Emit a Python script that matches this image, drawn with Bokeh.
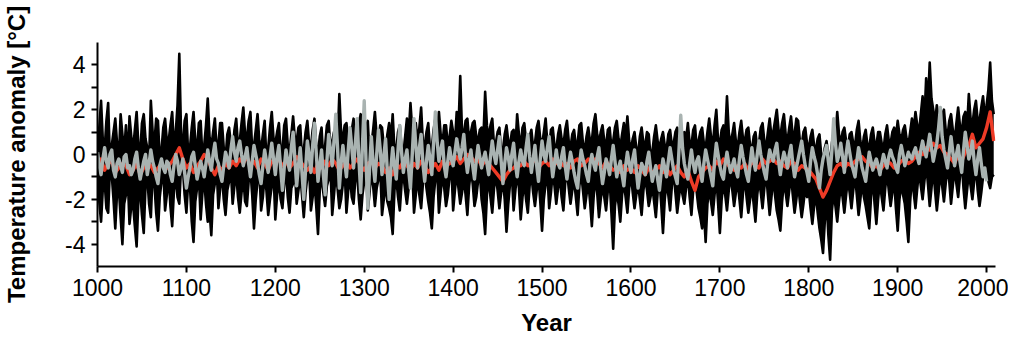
from bokeh.plotting import figure
from bokeh.models import ColumnDataSource, FixedTicker, Range1d
from bokeh.embed import file_html
from bokeh.resources import INLINE

years2 = list(range(1000, 2009, 2))
years4 = list(range(1000, 2009, 4))
nan = float("nan")

upper = [
    0.3, 1.2, 2.4, 0.6, 0.2, 1.5, 2.3, -0.3, 0.4, 1.0, 1.6, 0.5, -0.2, 1.8, 0.9, 0.1, 1.3, -0.4, 1.7, 0.8,
    0.2, 1.1, 1.9, 0.4, 0.0, 1.4, 1.8, 0.7, 0.3, -0.3, 2.4, 1.0, 0.5, 1.6, 1.5, -0.2, 0.2, 1.2, 1.6, 0.6,
    0.6, 1.3, 1.9, 0.3, 1.0, 2.2, 4.5, 0.9, 0.4, 1.5, 1.8, 0.0, 0.3, 1.2, 1.9, 0.6, 0.2, 1.4, 1.5, -0.1,
    0.4, 1.3, 2.5, 0.8, 0.3, 1.0, 1.6, 0.2, 0.5, 1.4, 1.4, 0.3, -0.2, 0.9, 1.2, 0.5, 0.0, 1.1, 1.6, 0.4,
    0.6, 1.4, 2.1, 0.9, 0.7, 1.5, 1.9, 0.2, 0.4, 1.1, 1.8, 0.6, 0.2, 0.9, 1.5, -0.2, 0.3, 1.2, 1.9, 0.7,
    0.5, 1.0, 1.4, 0.1, 0.2, 1.3, 1.6, 0.4, 0.1, 0.9, 1.7, 0.7, 0.6, 1.2, 1.3, -0.1, 0.2, 1.0, 1.5, 0.5,
    0.3, 1.1, 1.6, 0.4, 0.0, 0.8, 1.2, -0.3, 0.4, 1.3, 1.5, 0.2, 0.6, 1.0, 1.1, 0.5, 2.7, 0.9, 0.8, 1.3,
    1.4, 0.6, 0.2, 1.1, 1.6, 0.3, 0.5, 1.4, 1.8, 0.7, 0.3, 1.2, 1.5, -0.2, 0.4, 1.1, 1.9, 0.8, 0.6, 1.3,
    1.2, 0.4, 0.1, 0.9, 1.4, 0.6, 1.8, 0.2, 0.2, 1.0, 1.3, 0.3, 0.0, 0.8, 1.6, 0.9, 2.3, 1.1, 0.5, 1.4,
    0.6, 1.2, 2.1, 0.5, 0.4, 1.0, 1.4, 0.2, 0.3, 1.1, 1.6, 0.7, 1.9, 0.9, 0.5, 1.3, 1.3, 0.4, 0.8, 1.5,
    1.0, 0.5, 1.9, 1.2, 3.5, 1.0, 0.9, 1.5, 1.6, 0.6, 1.0, 1.4, 1.5, 0.8, 0.6, 1.1, 1.2, 0.7, 2.8, 1.3,
    0.7, 1.3, 1.6, 0.4, 0.5, 1.0, 1.2, 0.1, 0.2, 0.9, 1.3, 0.6, 0.4, 1.0, 1.1, 0.3, 1.8, 0.9, 0.3, 1.2,
    1.4, 0.6, 0.2, 0.8, 1.1, 0.3, 0.5, 1.2, 1.5, 0.7, 0.4, 1.0, 1.6, 0.5, 0.3, 1.1, 1.2, 0.4, 0.2, 0.9,
    1.3, 0.7, 0.4, 1.1, 1.5, 0.6, 0.3, 0.9, 1.1, 0.4, 0.5, 1.3, 1.4, 0.5, 0.2, 0.8, 1.2, 0.6, 0.6, 1.4,
    1.8, 0.9, 0.5, 1.0, 1.3, 0.6, 0.4, 1.1, 1.2, 0.3, 0.6, 1.2, 1.5, 0.7, 0.3, 0.9, 1.4, 0.8, 1.7, 0.6,
    0.2, 0.7, 1.0, 0.3, 0.0, 0.8, 1.2, 0.5, 0.4, 1.0, 0.9, -0.1, 0.1, 0.8, 1.3, 0.6, 0.3, 0.7, 1.0, 0.4,
    0.2, 0.9, 1.1, 0.4, 0.5, 1.0, 1.2, 0.6, 0.3, 0.8, 1.0, 0.7, 1.4, 0.5, 0.4, 1.1, 1.3, 0.3, 0.6, 1.0,
    1.2, 0.5, 0.3, 1.0, 1.6, 0.8, 0.4, 1.3, 2.0, 0.6, 0.5, 1.1, 1.3, 0.9, 2.6, 1.0, 0.4, 0.9, 1.4, 0.6,
    0.3, 1.0, 1.5, 0.7, 0.6, 1.1, 1.2, 0.4, 0.2, 0.8, 1.0, 0.3, 0.5, 1.2, 1.4, 0.6, 0.3, 1.0, 1.6, 0.8,
    1.0, 1.5, 2.0, 1.1, 0.8, 1.4, 1.8, 0.9, 0.6, 1.2, 1.7, 0.8, 0.9, 1.6, 1.5, 0.6, 0.4, 1.0, 1.2, 0.5,
    0.3, 0.8, 1.1, 0.4, 0.2, 0.7, 0.9, 0.0, -0.3, 0.3, 0.6, -0.1, -0.2, 0.5, 1.0, 0.7, 1.9, 0.9, 0.5, 1.0,
    1.2, 0.6, 0.3, 0.9, 1.0, 0.5, 0.4, 1.1, 1.5, 0.6, 0.2, 0.8, 1.1, 0.4, 0.3, 0.9, 1.2, 0.5, 0.4, 1.0,
    1.0, 0.5, 0.2, 0.9, 1.3, 0.6, 0.5, 1.0, 1.2, 0.8, 1.5, 0.9, 0.6, 1.1, 1.3, 0.7, 0.4, 1.0, 1.6, 1.1,
    1.9, 1.3, 1.0, 1.8, 2.6, 1.5, 3.4, 2.2, 4.1, 2.5, 2.0, 1.4, 2.2, 1.6, 1.2, 1.8, 2.0, 1.1, 0.8, 1.5,
    1.8, 1.1, 0.6, 1.4, 2.1, 1.3, 1.0, 1.7, 1.9, 1.2, 2.7, 1.6, 1.3, 2.0, 2.4, 1.5, 1.5, 2.1, 2.6, 1.7,
    2.2, 2.9, 4.1, 2.4, 1.8,
]

lower = [
    -0.8, -2.1, -3.0, -1.5, -1.2, -2.4, -2.6, -0.6, -0.9, -2.0, -3.3, -1.7, -1.5, -2.8, -4.0, -2.2, -1.8, -1.0, -3.1, -2.3,
    -2.2, -3.2, -4.1, -2.0, -1.6, -2.7, -3.5, -1.4, -1.0, -2.2, -2.8, -0.8, -1.3, -2.6, -3.4, -1.9, -1.2, -0.7, -2.5, -1.8,
    -0.9, -2.3, -3.2, -1.6, -1.0, -1.9, -2.2, -0.5, -0.6, -1.8, -2.6, -1.2, -1.4, -3.0, -3.9, -2.1, -1.5, -0.9, -2.9, -1.7,
    -1.1, -2.2, -3.0, -2.5, -3.6, -1.8, -1.3, -0.6, -2.4, -1.5, -0.9, -2.0, -2.7, -1.6, -1.2, -0.7, -2.2, -1.4, -0.8, -1.9,
    -2.6, -1.7, -1.0, -2.1, -2.3, -1.2, -0.7, -1.8, -3.3, -2.0, -1.2, -0.6, -2.5, -1.9, -0.9, -1.6, -2.7, -2.0, -1.4, -0.8,
    -2.9, -1.8, -1.1, -2.0, -2.4, -1.3, -0.8, -1.9, -2.6, -1.5, -1.3, -0.7, -2.2, -1.6, -0.9, -1.8, -2.8, -1.7, -1.0, -0.6,
    -2.5, -1.9, -1.2, -2.3, -3.55, -1.6, -0.9, -1.7, -2.3, -1.4, -1.1, -0.6, -2.7, -1.8, -0.8, -1.5, -2.4, -2.0, -1.3, -0.7,
    -2.6, -1.6, -1.0, -1.9, -2.2, -1.1, -0.7, -2.0, -2.9, -1.8, -1.2, -0.5, -2.5, -1.7, -0.8, -1.4, -2.3, -1.5, -1.1, -0.6,
    -2.7, -2.0, -1.3, -2.1, -2.4, -2.8, -3.55, -1.6, -1.0, -1.9, -2.5, -1.3, -0.9, -1.6, -2.2, -1.5, -1.2, -0.7, -2.6, -1.8,
    -1.0, -1.8, -2.4, -1.3, -0.8, -1.5, -2.1, -2.6, -3.3, -1.9, -1.1, -0.6, -2.6, -1.7, -0.9, -1.5, -2.3, -1.8, -1.0, -0.5,
    -2.5, -1.6, -0.8, -1.5, -2.2, -1.7, -1.0, -1.8, -2.7, -1.4, -0.7, -1.3, -2.3, -1.9, -1.2, -0.8, -2.0, -2.6, -3.55, -1.8,
    -1.0, -1.9, -2.6, -1.5, -0.9, -1.6, -2.4, -1.7, -1.1, -2.0, -3.45, -2.2, -1.3, -0.8, -2.5, -1.6, -0.8, -1.5, -2.9, -1.9,
    -1.2, -2.0, -2.6, -1.4, -0.9, -1.7, -2.3, -1.6, -1.0, -2.1, -3.4, -2.0, -1.3, -0.8, -2.4, -1.7, -0.8, -1.4, -2.2, -1.5,
    -1.0, -1.9, -2.5, -1.3, -0.7, -1.5, -2.2, -1.6, -1.1, -1.9, -2.7, -1.4, -0.8, -1.6, -2.4, -1.8, -1.2, -2.1, -3.2, -1.9,
    -1.0, -1.7, -2.8, -2.0, -1.4, -1.9, -2.5, -1.6, -1.1, -2.6, -4.2, -2.3, -1.6, -2.2, -3.0, -1.8, -1.2, -1.9, -2.6, -1.5,
    -0.9, -1.7, -2.4, -1.8, -1.3, -2.0, -2.7, -1.6, -1.0, -1.6, -2.3, -1.9, -1.4, -2.1, -2.8, -1.7, -1.1, -2.2, -3.5, -2.0,
    -1.2, -1.8, -2.5, -1.4, -0.8, -1.7, -2.6, -1.9, -1.3, -1.8, -2.2, -1.5, -0.9, -1.9, -2.7, -1.6, -1.1, -1.7, -2.4, -2.8,
    -3.3, -2.5, -3.9, -2.2, -1.5, -2.1, -2.7, -1.8, -1.0, -2.2, -3.5, -2.0, -1.3, -1.8, -2.5, -1.6, -0.9, -1.6, -2.3, -1.7,
    -1.2, -2.0, -2.8, -1.7, -1.0, -1.9, -2.6, -2.0, -1.4, -2.2, -3.0, -1.8, -1.1, -1.7, -2.4, -1.5, -0.8, -1.8, -2.7, -1.9,
    -1.0, -1.8, -2.5, -2.9, -3.4, -2.1, -1.2, -1.7, -2.3, -1.6, -0.9, -1.8, -2.6, -2.0, -1.3, -2.1, -2.8, -2.2, -1.5, -1.9,
    -1.6, -2.4, -3.1, -2.3, -1.8, -2.6, -3.3, -3.8, -4.4, -3.0, -2.0, -3.6, -4.7, -2.5, -1.7, -2.3, -3.0, -2.1, -1.4, -1.9,
    -2.6, -1.8, -1.1, -1.7, -2.4, -1.6, -0.9, -1.8, -2.7, -2.0, -1.2, -1.9, -2.3, -2.8, -3.3, -1.9, -1.0, -2.2, -3.1, -2.0,
    -1.2, -1.9, -2.5, -1.5, -0.8, -1.6, -2.3, -1.7, -1.1, -2.4, -3.4, -2.0, -1.3, -1.8, -2.2, -3.0, -3.9, -2.1, -1.0, -1.7,
    -2.4, -1.5, -0.7, -1.4, -2.0, -1.2, -0.4, -1.3, -2.3, -1.5, -0.6, -1.6, -2.5, -1.7, -0.8, -1.4, -2.1, -1.3, -0.5, -1.2,
    -2.2, -1.4, -0.6, -1.3, -1.9, -1.0, -0.3, -1.5, -2.4, -1.6, -0.8, -1.4, -2.0, -1.2, -0.5, -1.6, -2.3, -1.7, -1.0, -0.7,
    -0.6, -1.2, -1.5, -1.0, -0.9,
]

gray = [
    0.1, -0.5, -0.9, -0.2, 0.3, -0.3, -0.6, 0.0, 0.2, -0.7, -1.0, -0.4, -0.2, -0.5, -0.8, -0.1, 0.0, -0.6, -0.5, -0.9,
    -0.7, -0.2, 0.1, -0.6, -1.1, -0.7, -0.3, 0.0, -0.9, -0.4, 0.2, -0.3, -0.6, -1.0, -1.3, -0.5, -0.2, -0.6, -0.8, -0.3,
    -0.4, -0.9, -1.2, -0.5, 0.0, -0.3, -0.9, -0.6, -0.2, -0.8, -1.5, -1.0, -0.6, -0.1, 0.1, -0.5, -1.1, -0.7, -0.3, -0.6,
    -1.0, -0.4, 0.2, -0.3, -0.7, 0.0, 0.5, -0.2, -0.4, -0.9, -1.2, -0.5, 0.1, -0.2, -0.6, 0.2, 0.8, 0.1, -0.3, 0.3,
    0.6, 0.0, -0.5, -0.1, 0.3, -0.4, -1.0, -0.3, 0.4, 0.0, -0.4, -0.9, -1.3, -0.5, 0.2, -0.3, -0.8, -0.1, 0.5, -0.2,
    -0.9, -0.1, 0.4, -0.6, -1.6, -0.6, 0.2, -0.3, -0.7, 0.3, 1.0, -0.2, -1.4, -0.5, 0.3, -0.8, -2.0, -0.7, 0.6, 0.0,
    -0.8, 0.4, 1.4, 0.1, -1.2, -0.5, 0.2, -0.9, -1.8, -0.3, 0.9, 0.2, -0.5, 0.6, 1.8, 0.3, -1.5, -0.4, 0.4, -0.3,
    -1.0, 0.2, 1.2, 0.3, -0.6, 0.5, 1.6, -0.2, -1.7, 0.4, 2.4, -0.3, -2.4, -0.6, 0.8, -0.4, -1.2, 0.0, 1.1, 0.2,
    -0.9, -0.1, 0.7, -0.8, -2.0, -0.6, 0.3, -0.5, -1.1, 0.2, 1.3, 0.1, -0.8, -0.2, 0.2, -0.7, -1.5, 0.0, 1.6, 0.4,
    -0.6, 0.3, 0.9, -0.4, -1.2, -0.3, 0.4, -0.2, -0.9, 0.5, 1.9, 0.6, -0.3, 0.2, 0.6, -0.5, -1.0, -0.3, 0.3, -0.2,
    -0.5, 0.1, 0.7, 0.2, -0.2, 0.3, 0.9, -0.1, -0.8, -0.2, 0.2, -0.5, -1.1, -0.3, 0.4, -0.1, -0.6, -0.2, 0.1, -0.4,
    -0.9, -0.1, 0.6, 0.0, -0.4, 0.2, 0.8, -0.3, -1.3, -0.4, 0.3, -0.1, -0.7, 0.0, 0.5, -0.4, -1.0, -0.3, 0.2, -0.3,
    -0.5, 0.3, 0.9, -0.1, -0.8, -0.2, 0.4, -0.5, -1.2, -0.2, 0.6, 0.0, -0.3, 0.3, 0.8, -0.2, -1.0, -0.4, 0.2, -0.4,
    -0.6, -0.1, 0.3, -0.5, -1.1, -0.4, 0.1, -0.3, -0.8, -1.2, -1.5, -0.5, 0.2, -0.2, -0.5, -0.9, -1.2, -0.4, 0.0, -0.4,
    -0.7, -0.1, 0.3, -0.6, -1.3, -0.8, -0.2, -0.5, -0.9, -0.2, 0.4, -0.3, -1.0, -0.6, -0.3, -0.9, -1.4, -0.5, 0.1, -0.4,
    -0.8, -0.2, 0.2, -0.7, -1.5, -0.9, -0.4, -0.6, -0.9, -0.3, 0.1, -0.6, -1.2, -0.8, -0.5, -1.1, -1.6, -0.8, -0.2, -0.6,
    -1.0, -0.3, 0.3, -0.2, -0.7, -1.0, -1.3, 0.2, 1.75, 0.3, -0.4, -0.8, -1.1, -0.4, 0.2, -0.4, -0.8, -0.3, -0.1, -0.7,
    -1.2, -0.4, 0.2, -0.2, -0.6, -1.0, -1.4, -0.3, 0.5, 0.0, -0.5, -0.9, -1.1, -0.4, 0.1, -0.4, -0.8, -0.5, -0.2, -0.7,
    -1.0, -0.2, 0.4, -0.1, -0.5, -0.9, -1.2, -0.4, 0.3, -0.3, -0.7, 0.0, 0.6, 0.0, -0.4, -0.8, -1.1, -0.3, 0.2, -0.1,
    -0.3, 0.2, 0.5, -0.3, -0.9, -0.3, 0.1, -0.2, -0.6, 0.0, 0.4, -0.4, -1.0, -0.6, -0.2, 0.2, 0.6, 0.0, -0.5, -0.8,
    -1.2, -0.3, 0.3, -0.1, -0.4, -0.9, -1.5, -0.7, -0.2, 0.1, 0.4, -0.3, -0.9, 0.2, 1.6, 0.5, -0.3, 0.0, 0.5, -0.1,
    -0.8, 0.0, 0.6, 0.1, -0.4, -0.7, -1.0, -0.3, 0.3, -0.1, -0.6, -0.9, -1.2, -0.5, 0.1, -0.3, -0.7, -0.4, -0.2, -0.5,
    -0.9, -0.4, 0.0, -0.3, -0.6, -0.1, 0.2, -0.1, -0.3, -0.6, -0.8, 0.0, 0.4, 0.0, -0.5, -0.2, 0.1, -0.1, -0.2, 0.1,
    0.3, -0.1, -0.4, 0.2, 0.6, 0.2, -0.1, 0.4, 0.9, 0.3, -0.3, 0.1, 0.5, 1.2, 2.1, 0.8, 0.2, -0.2, -0.6, 0.1,
    0.8, 0.1, -0.5, 0.0, 0.4, -0.3, -0.8, 0.2, 1.0, 0.4, -0.2, 0.1, 0.6, -0.3, -0.9, -0.2, 0.3, -0.4, -1.0, -0.6,
    -1.2, nan, nan, nan, nan,
]

red = [
    -0.5, -0.2, -0.7, -0.4, -0.3, -0.8, -0.6, -0.4, -0.5, -0.9,
    -0.7, -0.4, -0.9, -0.6, -0.3, -0.5, -0.8, -0.6, -0.4, -0.7,
    -0.5, -0.3, 0.0, 0.3, -0.2, -0.6, -0.4, -0.8, -0.5, -0.3,
    0.0, -0.2, -0.6, -0.9, -0.5, -0.7, -0.4, -0.6, -0.3, -0.5,
    -0.2, -0.4, -0.1, -0.5, -0.3, -0.6, -0.2, -0.4, -0.7, -0.3,
    -0.4, -0.2, -0.5, -0.3, -0.6, -0.4, -0.1, -0.3, -0.5, -0.7,
    -0.5, -0.8, -0.4, -0.6, -0.3, -0.5, -0.2, -0.4, -0.7, -0.5,
    -0.3, -0.6, -0.4, -0.2, -0.5, -0.7, -0.4, -0.3, -0.6, -0.4,
    -0.5, -0.8, -0.6, -0.9, -0.4, -0.6, -0.3, -0.5, -0.7, -0.4,
    -0.6, -0.3, -0.5, -0.8, -0.6, -0.4, -0.7, -0.3, -0.5, -0.4,
    -0.3, -0.1, -0.4, -0.2, 0.0, -0.1, -0.3, -0.2, -0.5, -0.3,
    -0.4, -0.6, -0.8, -1.0, -1.2, -0.9, -0.7, -0.6, -0.4, -0.5,
    -0.3, -0.5, -0.4, -0.2, -0.6, -0.4, -0.3, -0.5, -0.2, -0.4,
    -0.3, -0.5, -0.4, -0.6, -0.3, -0.2, -0.5, -0.4, -0.2, -0.3,
    -0.2, -0.4, -0.6, -0.3, -0.5, -0.7, -0.6, -0.8, -0.5, -0.7,
    -0.6, -0.8, -0.5, -0.7, -0.9, -0.6, -0.8, -0.7, -0.5, -0.8,
    -0.6, -0.9, -0.7, -0.5, -0.8, -1.0, -0.7, -1.2, -1.6, -1.0,
    -0.8, -0.6, -0.5, -0.7, -0.3, -0.5, -0.2, -0.4, -0.6, -0.7,
    -0.5, -0.6, -0.4, -0.7, -0.3, -0.5, -0.6, -0.2, -0.4, -0.3,
    -0.2, -0.4, -0.3, -0.5, -0.6, -0.3, -0.4, -0.7, -0.5, -0.6,
    -0.7, -0.9, -1.1, -1.5, -1.9, -1.6, -1.2, -0.8, -0.5, -0.4,
    -0.6, -0.4, -0.5, -0.3, -0.2, -0.1, -0.3, -0.4, -0.6, -0.5,
    -0.7, -0.5, -0.3, -0.4, -0.6, -0.5, -0.3, -0.2, -0.4, -0.3,
    -0.1, 0.1, 0.0, 0.3, 0.2, 0.5, 0.3, 0.4, 0.1, 0.0,
    -0.2, -0.4, 0.0, -0.3, 0.1, 0.4, 0.9, 0.3, 0.5, 0.7,
    1.2, 1.9, 0.6,
]

x_ticks = [1000, 1100, 1200, 1300, 1400, 1500, 1600, 1700, 1800, 1900, 2000]
y_ticks = [-4, -3, -2, -1, 0, 1, 2, 3, 4]
y_labels = {-4: "-4", -3: "", -2: "-2", -1: "", 0: "0", 1: "", 2: "2", 3: "", 4: "4"}

src2 = ColumnDataSource(dict(year=years2, upper=upper, lower=lower, gray=gray))
src4 = ColumnDataSource(dict(year=years4, red=red))

p = figure(width=1008, height=345, output_backend="svg", toolbar_location=None,
           x_range=Range1d(1000, 2010), y_range=Range1d(-5, 5),
           min_border_left=96, min_border_right=13, min_border_top=42, min_border_bottom=79)
p.outline_line_color = None
p.xgrid.visible = False
p.ygrid.visible = False

# ensemble range between the two black bounds
p.varea(x="year", y1="lower", y2="upper", source=src2, fill_color="#000000")
p.line("year", "upper", source=src2, line_color="#000000", line_width=2.6, line_join="round")
p.line("year", "lower", source=src2, line_color="#000000", line_width=2.6, line_join="round")
p.line("year", "red", source=src4, line_color="#ee3b26", line_width=3.4, line_join="round")
p.line("year", "gray", source=src2, line_color="#a9b3b1", line_width=3.4, line_join="round")

font = "Liberation Sans"
p.xaxis.ticker = FixedTicker(ticks=x_ticks)
p.yaxis.ticker = FixedTicker(ticks=y_ticks)
p.yaxis.major_label_overrides = y_labels
for ax in (p.xaxis, p.yaxis):
    ax.axis_line_width = 2
    ax.major_tick_line_width = 2
    ax.minor_tick_line_color = None
    ax.major_tick_in = 0
    ax.major_tick_out = 6
    ax.major_label_text_font = font
    ax.major_label_text_font_size = "23px"
    ax.major_label_text_color = "#000000"
    ax.axis_label_text_font = font
    ax.axis_label_text_font_style = "bold"
    ax.axis_label_text_color = "#000000"

p.xaxis.axis_label = "Year"
p.xaxis.axis_label_text_font_size = "24px"
p.xaxis.major_label_standoff = 6
p.xaxis.axis_label_standoff = 10
p.yaxis.axis_label = "Temperature anomaly [°C]"
p.yaxis.axis_label_text_font_size = "24px"
p.yaxis.major_label_standoff = 6
p.yaxis.axis_label_standoff = 32

open("out.html", "w").write(file_html(p, INLINE))
